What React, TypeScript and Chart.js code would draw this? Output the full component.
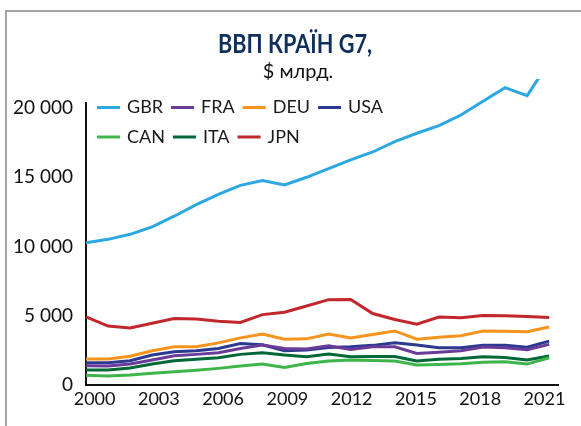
import React, { useEffect, useRef } from "react";
import { Chart, registerables } from "chart.js";

Chart.register(...registerables);

const years = [2000, 2001, 2002, 2003, 2004, 2005, 2006, 2007, 2008, 2009, 2010, 2011, 2012, 2013, 2014, 2015, 2016, 2017, 2018, 2019, 2020, 2021];
const xTickYears = [2000, 2003, 2006, 2009, 2012, 2015, 2018, 2021];
const yTickValues = [0, 5000, 10000, 15000, 20000];

const seriesNames = ["GBR", "FRA", "DEU", "USA", "CAN", "ITA", "JPN"];
const seriesColors = ["#2ba8e0", "#6a3b98", "#f7941d", "#2b3990", "#3db54a", "#006837", "#c1272d"];

const gbr = [10270, 10510, 10875, 11410, 12180, 13020, 13760, 14410, 14760, 14430, 14990, 15620, 16245, 16815, 17570, 18165, 18720, 19485, 20475, 21455, 20880, 23300];
const fra = [1390, 1365, 1510, 1800, 2110, 2210, 2325, 2640, 2880, 2640, 2600, 2830, 2570, 2755, 2755, 2280, 2370, 2470, 2735, 2685, 2540, 2930];
const deu = [1870, 1870, 2080, 2470, 2760, 2760, 3040, 3400, 3670, 3310, 3330, 3670, 3400, 3650, 3900, 3310, 3450, 3550, 3900, 3880, 3840, 4190];
const usa = [1610, 1610, 1750, 2160, 2400, 2470, 2640, 3000, 2900, 2470, 2520, 2710, 2755, 2860, 3040, 2880, 2680, 2680, 2860, 2860, 2730, 3170];
const can = [700, 650, 720, 840, 950, 1060, 1200, 1370, 1520, 1270, 1550, 1730, 1800, 1775, 1730, 1440, 1480, 1530, 1650, 1680, 1510, 1970];
const ita = [1080, 1080, 1220, 1510, 1750, 1850, 1970, 2210, 2330, 2160, 2040, 2230, 2040, 2060, 2060, 1730, 1850, 1920, 2040, 1990, 1800, 2090];
const jpn = [4910, 4250, 4120, 4460, 4800, 4770, 4600, 4510, 5080, 5250, 5700, 6160, 6170, 5160, 4730, 4390, 4910, 4850, 5010, 4990, 4940, 4870];

const seriesValues = [gbr, fra, deu, usa, can, ita, jpn];

const titleText = "ВВП КРАЇН G7,";
const subtitleText = "$ млрд.";
const legendRows = [[0, 1, 2, 3], [4, 5, 6]];

const FONT = "Lato, 'Noto Sans', 'Open Sans', sans-serif";

const textPlugin = {
  id: "textPlugin",
  afterDraw(chart: any) {
    const ctx = chart.ctx as CanvasRenderingContext2D;
    ctx.save();
    // title
    ctx.fillStyle = "#0f2f5c";
    ctx.textAlign = "center";
    ctx.textBaseline = "middle";
    ctx.font = `bold 27px ${FONT}`;
    const w = ctx.measureText(titleText).width;
    const sx = Math.min(1, 154 / w);
    ctx.translate(295, 44);
    ctx.scale(sx, 1);
    ctx.fillText(titleText, 0, 0);
    ctx.restore();

    ctx.save();
    ctx.fillStyle = "#111";
    ctx.textAlign = "center";
    ctx.textBaseline = "middle";
    ctx.font = `20px ${FONT}`;
    ctx.fillText(subtitleText, 298, 72);

    // legend
    ctx.font = `18px ${FONT}`;
    ctx.textAlign = "left";
    legendRows.forEach((row, ri) => {
      let x = 97;
      const y = ri === 0 ? 107.5 : 137;
      row.forEach((i) => {
        const ds = chart.data.datasets[i];
        ctx.strokeStyle = ds.borderColor;
        ctx.lineWidth = 3;
        ctx.beginPath();
        ctx.moveTo(x, y);
        ctx.lineTo(x + 23, y);
        ctx.stroke();
        x += 30;
        ctx.fillStyle = "#1a1a1a";
        ctx.fillText(ds.label, x, y);
        x += ctx.measureText(ds.label).width + 8;
      });
    });
    ctx.restore();
  },
};

function formatThousands(v: number): string {
  if (v === 0) return "0";
  const th = Math.floor(v / 1000);
  const rest = String(v % 1000).padStart(3, "0");
  return `${th} ${rest}`;
}

export default function App() {
  const canvasRef = useRef<HTMLCanvasElement | null>(null);

  useEffect(() => {
    const canvas = canvasRef.current;
    if (!canvas) return;
    const chart = new Chart(canvas, {
      type: "line",
      data: {
        datasets: seriesNames.map((name, i) => ({
          label: name,
          data: seriesValues[i].map((v, j) => ({ x: years[j], y: v })),
          borderColor: seriesColors[i],
          backgroundColor: seriesColors[i],
          borderWidth: 3,
          pointRadius: 0,
          tension: 0,
          fill: false,
          xAxisID: "x",
          yAxisID: "y",
          clip: { left: 5, top: 24, right: 5, bottom: 5 },
        })),
      },
      options: {
        animation: false,
        responsive: false,
        devicePixelRatio: 1,
        layout: { padding: { left: 0, top: 103, right: 23, bottom: 11 } },
        plugins: {
          legend: { display: false },
          title: { display: false },
          tooltip: { enabled: false },
        },
        scales: {
          x: {
            type: "linear",
            position: "bottom",
            weight: 0,
            min: 2000,
            max: 2021.4,
            grid: { display: false, drawTicks: false },
            border: { display: true, color: "#111", width: 2 },
            ticks: { display: false },
            afterFit(s: any) {
              s.height = 0;
            },
          },
          x2: {
            type: "linear",
            position: "bottom",
            weight: 1,
            min: 1999.6,
            max: 2021.63,
            grid: { display: false, drawTicks: false },
            border: { display: false },
            ticks: {
              font: { size: 18, family: FONT },
              color: "#111",
              padding: 3,
              maxRotation: 0,
              autoSkip: false,
              callback: (v: any) => String(v),
            },
            afterBuildTicks(s: any) {
              s.ticks = xTickYears.map((v) => ({ value: v }));
            },
            afterFit(s: any) {
              s.height = 30;
            },
          },
          y: {
            type: "linear",
            min: 0,
            max: 20350,
            grid: { display: false, drawTicks: false },
            border: { display: true, color: "#111", width: 2 },
            ticks: {
              font: { size: 19, family: FONT },
              color: "#111",
              padding: 13,
              callback: (v: any) => formatThousands(Number(v)),
            },
            afterBuildTicks(s: any) {
              s.ticks = yTickValues.map((v) => ({ value: v }));
            },
            afterFit(s: any) {
              s.width = 86;
            },
          },
        },
      } as any,
      plugins: [textPlugin],
    });
    return () => chart.destroy();
  }, []);

  return (
    <div style={{ position: "fixed", left: 0, top: 0, width: 581, height: 426, overflow: "hidden", background: "#fff" }}>
      <div
        style={{
          position: "absolute",
          left: 5,
          top: 10,
          width: 600,
          height: 500,
          border: "2px solid #a3a3a3",
          boxSizing: "border-box",
        }}
      />
      <canvas
        ref={canvasRef}
        width={581}
        height={426}
        style={{ position: "absolute", left: 0, top: 0, width: 581, height: 426 }}
      />
    </div>
  );
}
